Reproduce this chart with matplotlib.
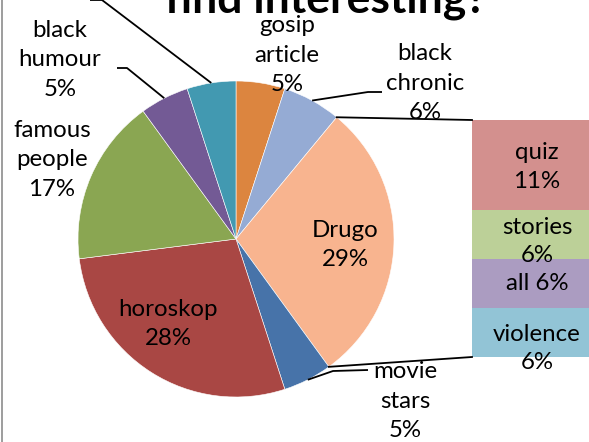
import matplotlib.pyplot as plt
import numpy as np

plt.rcParams['font.family'] = ['Lato', 'DejaVu Sans']

# pie data (clockwise from 12 o'clock)
pie_names = ["gosip\narticle", "black\nchronic", "Drugo", "movie\nstars", "horoskop",
             "famous\npeople", "black\nhumour", ""]
pie_values = [5, 6, 29, 5, 28, 17, 5, 5]
pie_colors = ["#DC853F", "#95ABD4", "#F8B48F", "#4773A9", "#A94744",
              "#8AA652", "#735A95", "#4299B1"]

# breakdown of "Drugo"
bar_names = ["quiz", "stories", "all", "violence"]
bar_values = [11, 6, 6, 6]
bar_colors = ["#D3908E", "#BCD098", "#AB9CC1", "#92C4D6"]

W, H = 589, 442
def Y(y):
    return H - y

fig = plt.figure(figsize=(W / 100, H / 100), dpi=100)
ax = fig.add_axes([0, 0, 1, 1])

cx, cy, r = 236, Y(239), 158
wedges, _ = ax.pie(pie_values, colors=pie_colors, startangle=90, counterclock=False,
                   center=(cx, cy), radius=r, frame=True,
                   wedgeprops=dict(edgecolor='white', linewidth=0.4))
ax.set_xlim(0, W)
ax.set_ylim(0, H)
ax.set_aspect('equal')
ax.axis('off')

def edge_pt(w, frac=0.5, rad=1.0):
    a = np.deg2rad(w.theta1 + (w.theta2 - w.theta1) * frac)
    return cx + r * rad * np.cos(a), cy + r * rad * np.sin(a)

fs = 17.3

# label centres in pixels
label_pos = [(287, 55), (425, 83), (345, 245), (405, 401), (168, 324),
             (52, 160), (60, 60), (68, -8)]
for i, (name, v) in enumerate(zip(pie_names, pie_values)):
    lx, ly = label_pos[i]
    txt = f"{name}\n{v}%" if name else f"{v}%"
    ax.text(lx, Y(ly), txt, ha='center', va='center', fontsize=fs,
            linespacing=1.5, color='black')

# leader lines: wedge index -> (elbow, end) in pixels
leaders = {
    1: [(368, 92), (382, 92)],
    3: [(333, 371), (368, 370)],
    6: [(127, 68), (117, 68)],
    7: [(102, 0), (90, 0)],
}
for i, pts in leaders.items():
    sx, sy = edge_pt(wedges[i])
    xs = [sx] + [p[0] for p in pts]
    ys = [sy] + [Y(p[1]) for p in pts]
    ax.plot(xs, ys, color='black', lw=1.3, solid_capstyle='butt')

# stacked bar for "Drugo"
bar_left, bar_right = 472, 600
bar_top, bar_bot = 120, 357
bottom = Y(bar_bot)
heights = [v * (bar_bot - bar_top) / sum(bar_values) for v in bar_values]
bar_labels = ["quiz\n11%", "stories\n6%", "all 6%", "violence\n6%"]
label_off = [2, 7, 0, 16]   # pixels downward
for k in range(len(bar_values) - 1, -1, -1):
    ax.bar(bar_left, heights[k], width=bar_right - bar_left, bottom=bottom,
           align='edge', color=bar_colors[k], edgecolor='none')
    ax.text(537, bottom + heights[k] / 2 - label_off[k], bar_labels[k],
            ha='center', va='center', fontsize=fs, linespacing=1.45)
    bottom += heights[k]

# connector lines from the Drugo slice to the bar
d = wedges[2]
x_top, y_top = edge_pt(d, 1.0)
x_bot, y_bot = edge_pt(d, 0.0)
ax.plot([x_top, bar_left], [y_top, Y(bar_top)], color='black', lw=1.3)
ax.plot([x_bot, bar_left], [y_bot, Y(bar_bot)], color='black', lw=1.3)

# title (cut off at the top, as in the source)
ax.text(326, Y(13), "find interesting?", ha='center', va='baseline',
        fontsize=32, fontweight='bold')

# chart frame on the left
ax.plot([2, 2], [0, H], color='#8c8c8c', lw=1.2)

fig.savefig("out.png", dpi=100)
